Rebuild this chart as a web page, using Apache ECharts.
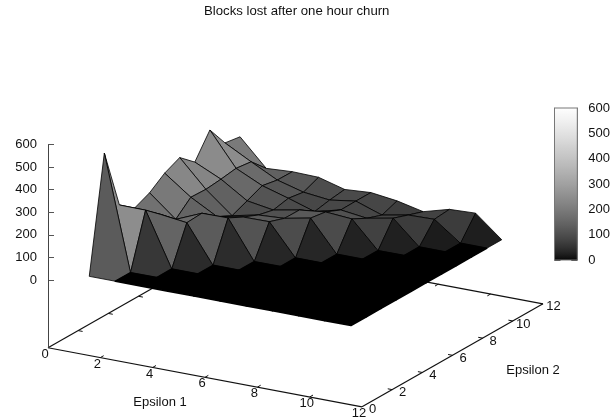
<!DOCTYPE html>
<html>
<head>
<meta charset="utf-8">
<style>html,body{margin:0;padding:0;background:#fff}#c{width:613px;height:418px}</style>
<script src="https://cdn.jsdelivr.net/npm/echarts@6/dist/echarts.min.js"></script>
</head>
<body>
<div id="c"></div>
<script>
// Data: height z at epsilon1 = 1..11 (one array per value) and epsilon2 = 1..11
const epsilon2Values = [1,2,3,4,5,6,7,8,9,10,11];
const row1  = [0,508,240,188,218,267,298,240,344,249,238];
const row2  = [0,0,239,182,122,182,179,186,196,187,120];
const row3  = [0,0,0,167,171,118,84,112,141,128,127];
const row4  = [0,0,0,0,172,138,109,93,107,96,124];
const row5  = [0,0,0,0,0,139,116,115,70,83,92];
const row6  = [0,0,0,0,0,0,139,128,99,100,100];
const row7  = [0,0,0,0,0,0,0,119,84,60,85];
const row8  = [0,0,0,0,0,0,0,0,106,82,59];
const row9  = [0,0,0,0,0,0,0,0,0,85,91];
const row10 = [0,0,0,0,0,0,0,0,0,0,96];
const row11 = [0,0,0,0,0,0,0,0,0,0,0];
const rows = [row1,row2,row3,row4,row5,row6,row7,row8,row9,row10,row11];

const groundTicks = [0,2,4,6,8,10,12];
const titleText = 'Blocks lost after one hour churn';
const xName = 'Epsilon 1';
const yName = 'Epsilon 2';

// Orthographic view of the 3D box, in page units
const view = {ox:48, oy:280, xx:26.17, xy:4.92, yx:15.08, yy:-8.58, zy:-135.5/600};
const zBase = -300, groundMax = 12, zMax = 600;
const project = (x,y,z) => [view.ox + view.xx*x + view.yx*y, view.oy + view.xy*x + view.yy*y + view.zy*z];

// gnuplot "gray" palette with gamma 1.5
const shade = z => { const g = Math.round(255*Math.pow(Math.max(0,Math.min(1,z/zMax)),1/1.5)); return `rgb(${g},${g},${g})`; };

// facets, far to near
const facets = [];
for (let j = rows.length-2; j >= 0; j--) {
  for (let i = 0; i < rows.length-1; i++) facets.push([i,j]);
}

// base-box lines: [x0,y0,x1,y1]
const m = groundMax;
const edges = [[0,0,m,0],[m,0,m,m],[m,m,0,m],[0,m,0,0]];
const ticks = [];
groundTicks.slice(1,-1).forEach(t => {
  ticks.push([t,0,t,0.22],[t,m,t,m-0.22],[0,t,0.17,t],[m,t,m-0.17,t]);
});
const textFont = '13px "Liberation Sans", Arial, sans-serif';

const option = {
  animation:false,
  backgroundColor:'#fff',
  title:{text:titleText,left:199,top:0,itemGap:0,
    textStyle:{fontFamily:'"Liberation Sans", Arial, sans-serif',fontSize:13.2,fontWeight:'normal',color:'#111'}},
  grid:[
    {left:0,top:0,width:613,height:418},
    {left:48,top:144.5,width:10,height:135.5},
    {left:554.5,top:108,width:26,height:152}
  ],
  xAxis:[
    {gridIndex:0,type:'value',min:0,max:613,show:false},
    {gridIndex:1,type:'value',min:0,max:1,show:false},
    {gridIndex:2,type:'value',min:0,max:1,show:false}
  ],
  yAxis:[
    {gridIndex:0,type:'value',min:0,max:418,inverse:true,show:false},
    {gridIndex:1,type:'value',min:0,max:zMax,interval:100,position:'left',
      axisLine:{show:true,lineStyle:{color:'#444',width:1}},
      axisTick:{show:true,inside:true,length:6,lineStyle:{color:'#555'}},
      axisLabel:{margin:11,color:'#111',fontFamily:'"Liberation Sans"',fontSize:13,padding:[2,0,0,0]},
      splitLine:{show:false}},
    {gridIndex:2,type:'value',min:0,max:zMax,interval:100,position:'right',
      axisLine:{show:true,onZero:false,lineStyle:{color:'#777',width:1}},
      axisTick:{show:true,inside:true,length:6,lineStyle:{color:'#444'}},
      axisLabel:{margin:11,color:'#111',fontFamily:'"Liberation Sans"',fontSize:13,padding:[2,0,0,0]},
      splitLine:{show:false}},
    {gridIndex:2,type:'value',min:0,max:zMax,interval:100,position:'left',
      axisLine:{show:true,onZero:false,lineStyle:{color:'#777',width:1}},
      axisTick:{show:true,inside:true,length:6,lineStyle:{color:'#444'}},
      axisLabel:{show:false},
      splitLine:{show:false}}
  ],
  series:[
    { // base box and z-axis extension
      type:'custom',coordinateSystem:'cartesian2d',xAxisIndex:0,yAxisIndex:0,silent:true,z:1,
      data:edges.concat(ticks),
      renderItem:(p,api)=>{
        const d = [api.value(0),api.value(1),api.value(2),api.value(3)];
        const a = api.coord(project(d[0],d[1],zBase)), b = api.coord(project(d[2],d[3],zBase));
        return {type:'line',shape:{x1:a[0],y1:a[1],x2:b[0],y2:b[1]},style:{stroke:'#111',lineWidth:p.dataIndex<4?1.2:1,fill:null}};
      }
    },
    {
      type:'custom',coordinateSystem:'cartesian2d',xAxisIndex:0,yAxisIndex:0,silent:true,z:1,
      data:[[0]],
      renderItem:(p,api)=>{
        const a = api.coord(project(0,0,0)), b = api.coord(project(0,0,zBase));
        return {type:'line',shape:{x1:a[0]+0.5,y1:a[1],x2:b[0]+0.5,y2:b[1]},style:{stroke:'#444',lineWidth:1,fill:null}};
      }
    },
    { // surface
      type:'custom',coordinateSystem:'cartesian2d',xAxisIndex:0,yAxisIndex:0,silent:true,z:2,progressive:0,
      data:facets,
      renderItem:(p,api)=>{
        const i = api.value(0), j = api.value(1);
        const cells = [[i,j],[i+1,j],[i+1,j+1],[i,j+1]];
        const zs = cells.map(c=>rows[c[0]][c[1]]);
        const mean = zs.reduce((s,v)=>s+v,0)/4;
        const pts = cells.map((c,k)=>api.coord(project(c[0]+1,epsilon2Values[c[1]],zs[k])));
        return {type:'polygon',shape:{points:pts},style:{fill:shade(mean),stroke:'#000',lineWidth:mean===0?1.6:0.8,lineJoin:'round'}};
      }
    },
    { // colour box
      type:'custom',coordinateSystem:'cartesian2d',xAxisIndex:2,yAxisIndex:2,silent:true,z:1,
      data:[[0,zMax]],
      renderItem:(p,api)=>{
        const a = api.coord([0,api.value(1)]), b = api.coord([1,api.value(0)]);
        const stops = [];
        for (let k=0;k<=60;k++) stops.push({offset:k/60,color:shade(zMax*(1-k/60))});
        return {type:'rect',shape:{x:a[0],y:a[1],width:b[0]-a[0],height:b[1]-a[1]},
          style:{fill:new echarts.graphic.LinearGradient(0,0,0,1,stops),stroke:'#777',lineWidth:1}};
      }
    },
    { // ground tick labels, epsilon 1
      type:'custom',coordinateSystem:'cartesian2d',xAxisIndex:0,yAxisIndex:0,silent:true,z:3,
      data:groundTicks.map(t=>[t]),
      renderItem:(p,api)=>{
        const t = api.value(0), a = api.coord(project(t,0,zBase));
        return {type:'text',x:a[0]-3,y:a[1]+6.5,style:{text:String(t),font:textFont,fill:'#111',align:'center',verticalAlign:'middle'}};
      }
    },
    { // ground tick labels, epsilon 2
      type:'custom',coordinateSystem:'cartesian2d',xAxisIndex:0,yAxisIndex:0,silent:true,z:3,
      data:groundTicks.map(t=>[t]),
      renderItem:(p,api)=>{
        const t = api.value(0), a = api.coord(project(m,t,zBase));
        return {type:'text',x:a[0]+10.5,y:a[1]+3,style:{text:String(t),font:textFont,fill:'#111',align:'center',verticalAlign:'middle'}};
      }
    },
    { // axis names
      type:'custom',coordinateSystem:'cartesian2d',xAxisIndex:0,yAxisIndex:0,silent:true,z:3,
      data:[[160,402,0],[533,370,1]],
      renderItem:(p,api)=>{
        const a = api.coord([api.value(0),api.value(1)]);
        return {type:'text',x:a[0],y:a[1],style:{text:api.value(2)?yName:xName,font:textFont,fill:'#111',align:'center',verticalAlign:'middle'}};
      }
    }
  ]
};
const chart = echarts.init(document.getElementById('c'),null,{renderer:'canvas',width:613,height:418});
chart.setOption(option);
</script>
</body>
</html>
